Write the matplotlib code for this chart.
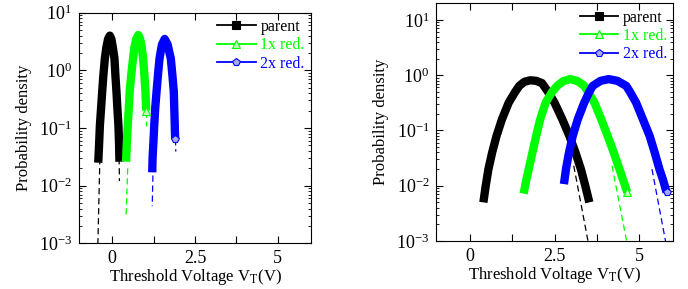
import matplotlib
matplotlib.use("Agg")
import matplotlib.pyplot as plt
from matplotlib.ticker import FixedLocator, LogLocator, NullFormatter

plt.rcParams['font.family'] = ['Liberation Serif', 'DejaVu Serif']
plt.rcParams['mathtext.fontset'] = 'stix'

labels = ['parent', '1x red.', '2x red.']
colors = ['#000000', '#00ff00', '#0000ff']
markers = ['s', '^', 'p']
mfaces = ['#000000', '#c0ffc0', '#a8a8f4']
show_end_marker = [False, True, True]

# ---- left panel ----
L_parent_x = [-0.42, -0.395, -0.37, -0.334, -0.30, -0.267, -0.22, -0.175, -0.123, -0.07,
              -0.024, 0.021, 0.07, 0.10, 0.13, 0.158, 0.19, 0.21, 0.22]
L_parent_y = [0.025, 0.05, 0.11, 0.22, 0.43, 0.79, 1.6, 2.5, 3.5, 4.0,
              3.5, 2.5, 1.6, 0.79, 0.43, 0.22, 0.11, 0.05, 0.026]
L_red1_x = [0.42, 0.44, 0.47, 0.503, 0.53, 0.572, 0.63, 0.672, 0.727, 0.79,
            0.845, 0.89, 0.935, 0.975, 1.005, 1.03]
L_red1_y = [0.026, 0.05, 0.11, 0.22, 0.43, 0.79, 1.6, 2.5, 3.5, 4.1,
            3.5, 2.6, 1.6, 0.8, 0.43, 0.2]
L_red2_x = [1.21, 1.22, 1.245, 1.27, 1.30, 1.34, 1.395, 1.43, 1.47, 1.503, 1.585,
            1.676, 1.714, 1.77, 1.82, 1.86, 1.89, 1.90]
L_red2_y = [0.017, 0.03, 0.056, 0.11, 0.22, 0.43, 1.0, 1.6, 2.2, 2.8, 3.5,
            2.8, 2.2, 1.6, 0.8, 0.43, 0.11, 0.064]

# fits (dashed) left panel
L_fit = [
    ([[-0.37, -0.43], [0.03, 0.001]], [[0.21, 0.22], [0.03, 0.012]]),
    ([[0.47, 0.42], [0.02, 0.003]], [[1.02, 1.02], [0.2, 0.11]]),
    ([[1.23, 1.21], [0.015, 0.0044]], [[1.91, 1.92], [0.064, 0.039]]),
]

# ---- right panel ----
R_parent_x = [0.39, 0.46, 0.54, 0.65, 0.78, 0.94, 1.14, 1.33, 1.45, 1.60, 1.78, 1.95,
              2.12, 2.30, 2.49, 2.72, 2.93, 3.11, 3.27, 3.40, 3.52]
R_parent_y = [0.005, 0.01, 0.02, 0.04, 0.08, 0.16, 0.32, 0.5, 0.64, 0.76, 0.81, 0.79,
              0.72, 0.5, 0.32, 0.16, 0.08, 0.04, 0.02, 0.01, 0.005]
R_red1_x = [1.58, 1.65, 1.73, 1.84, 1.95, 2.07, 2.23, 2.42, 2.58, 2.75, 2.96, 3.18,
            3.37, 3.48, 3.67, 3.87, 4.06, 4.24, 4.41, 4.52, 4.64]
R_red1_y = [0.0072, 0.012, 0.02, 0.04, 0.08, 0.16, 0.32, 0.5, 0.65, 0.78, 0.85, 0.78,
            0.64, 0.5, 0.32, 0.16, 0.08, 0.04, 0.02, 0.0126, 0.0076]
R_red2_x = [2.77, 2.83, 2.92, 3.03, 3.18, 3.37, 3.52, 3.62, 3.85, 4.09, 4.35,
            4.61, 4.72, 4.90, 5.10, 5.30, 5.45, 5.59, 5.70, 5.80]
R_red2_y = [0.0107, 0.02, 0.04, 0.08, 0.16, 0.32, 0.5, 0.64, 0.79, 0.85, 0.79,
            0.64, 0.5, 0.32, 0.16, 0.08, 0.04, 0.02, 0.0126, 0.0076]

R_fit = [
    [[3.06, 3.48], [0.023, 0.001]],
    [[4.19, 4.62], [0.023, 0.001]],
    [[5.37, 5.77], [0.02, 0.001]],
]

fig = plt.figure(figsize=(6.88, 2.89), dpi=100)
axL = fig.add_axes([79/688, 1-243.3/289, (311-79)/688, (243.3-12.7)/289])
axR = fig.add_axes([436.3/688, 1-241.0/289, (673.3-436.3)/688, (241.0-3.3)/289])

FS = 11.5

def style(ax, ylim):
    ax.set_yscale('log')
    ax.set_xlim(-1, 6)
    ax.set_ylim(*ylim)
    ax.xaxis.set_major_locator(FixedLocator([0, 2.5, 5]))
    ax.xaxis.set_minor_locator(FixedLocator([1.25, 3.75]))
    ax.set_xticklabels(['0', '2.5', '5'])
    ax.yaxis.set_major_locator(LogLocator(base=10, numticks=10))
    ax.yaxis.set_minor_locator(LogLocator(base=10, subs=range(2, 10), numticks=20))
    ax.yaxis.set_minor_formatter(NullFormatter())
    ax.tick_params(which='both', direction='in', top=True, right=True, labelsize=13)
    ax.tick_params(which='major', length=5, width=0.8, pad=5)
    ax.tick_params(axis='x', which='major', pad=5)
    ax.tick_params(axis='x', which='minor', length=5, width=0.8)
    ax.tick_params(axis='y', which='minor', length=2.5, width=0.6)
    ax.set_xlabel(r'Threshold Voltage V$_{\rm T}$(V)', fontsize=12, labelpad=0)
    ax.set_ylabel('Probability density', fontsize=12, labelpad=5)

def draw(ax, xs, ys, fits_drawer):
    fits_drawer(ax)
    handles = []
    for x, y, c, m, mf, lab, show in zip(xs, ys, colors, markers, mfaces, labels, show_end_marker):
        ax.plot(x, y, color=c, lw=6, solid_capstyle='butt', solid_joinstyle='round', zorder=3)
        if show:
            ax.plot([x[-1]], [y[-1]], ls='none', marker=m, ms=6, mfc=mf, mec=c, mew=0.8, zorder=4)
        h, = ax.plot([], [], color=c, lw=1.3, marker=m, ms=6, mfc=mf, mec=c, mew=0.8, label=lab)
        handles.append(h)
    return handles

def fitsL(ax):
    for (a, b), c in zip(L_fit, colors):
        for seg in (a, b):
            ax.plot(seg[0], seg[1], color=c, lw=0.9, ls=(0, (5, 3)), zorder=2)

def fitsR(ax):
    for seg, c in zip(R_fit, colors):
        ax.plot(seg[0], seg[1], color=c, lw=0.9, ls=(0, (5, 3)), zorder=2)

style(axL, (1e-3, 10))
style(axR, (1e-3, 20))
hL = draw(axL, [L_parent_x, L_red1_x, L_red2_x], [L_parent_y, L_red1_y, L_red2_y], fitsL)
hR = draw(axR, [R_parent_x, R_red1_x, R_red2_x], [R_parent_y, R_red1_y, R_red2_y], fitsR)

for ax, hs in ((axL, hL), (axR, hR)):
    leg = ax.legend(handles=hs, loc='upper right', frameon=False, fontsize=FS,
                    handlelength=2.4, handletextpad=0.3, labelspacing=0.15,
                    borderaxespad=0.2, borderpad=0.2)
    for t, c in zip(leg.get_texts(), colors):
        t.set_color(c)

fig.savefig('out.png', dpi=100)
